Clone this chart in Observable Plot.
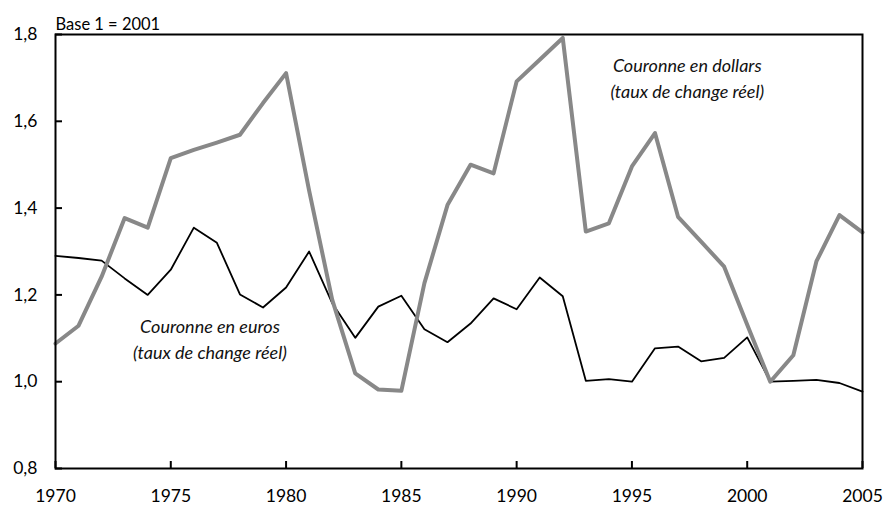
<!DOCTYPE html>
<html>
<head>
<meta charset="utf-8">
<script src="https://cdn.jsdelivr.net/npm/d3@7"></script>
<script src="https://cdn.jsdelivr.net/npm/@observablehq/plot@0.6"></script>
<style>
  html, body { margin: 0; padding: 0; background: #fff; }
  #chart svg { display: block; }
</style>
</head>
<body>
<div id="chart"></div>
<script>
const years = d3.range(1970, 2006);
const dollarValues = [1.088, 1.129, 1.242, 1.377, 1.355, 1.515, 1.534, 1.551, 1.569, 1.642,
  1.711, 1.44, 1.189, 1.019, 0.982, 0.979, 1.227, 1.407, 1.500, 1.480,
  1.692, 1.742, 1.792, 1.346, 1.365, 1.496, 1.573, 1.380, 1.323, 1.265,
  1.131, 1.000, 1.061, 1.277, 1.384, 1.344];
const euroValues = [1.290, 1.285, 1.279, 1.238, 1.200, 1.258, 1.355, 1.320, 1.201, 1.171,
  1.217, 1.300, 1.181, 1.101, 1.173, 1.198, 1.121, 1.091, 1.134, 1.192,
  1.167, 1.240, 1.197, 1.002, 1.006, 1.000, 1.077, 1.081, 1.047, 1.055,
  1.102, 1.000, 1.002, 1.004, 0.997, 0.977];
const xTicks = [1970, 1975, 1980, 1985, 1990, 1995, 2000, 2005];
const yTicks = [0.8, 1.0, 1.2, 1.4, 1.6, 1.8];
const baseLabel = "Base 1 = 2001";
const labels = [
  {year: 1997.4, value: 1.728, text: "Couronne en dollars"},
  {year: 1997.4, value: 1.666, text: "(taux de change réel)"},
  {year: 1976.7, value: 1.125, text: "Couronne en euros"},
  {year: 1976.7, value: 1.066, text: "(taux de change réel)"}
];

const dollars = years.map((y, i) => ({year: y, value: dollarValues[i]}));
const euros = years.map((y, i) => ({year: y, value: euroValues[i]}));
const fmt = d => d3.format(".1f")(d).replace(".", ",");
const font = "Lato, 'Open Sans', sans-serif";

const W = 887, H = 509, ML = 55, MR = 25, MT = 34, MB = 41;
const tickLen = 7;

const chart = Plot.plot({
  width: W,
  height: H,
  marginLeft: ML,
  marginRight: MR,
  marginTop: MT,
  marginBottom: MB,
  style: {fontFamily: font, fontSize: "17px", color: "#000", background: "#fff"},
  x: {domain: [1970, 2005]},
  y: {domain: [0.8, 1.8]},
  marks: [
    Plot.axisX({ticks: xTicks, tickSize: 0, tickPadding: 21, tickFormat: d => String(d), label: null, fontSize: 17.5}),
    Plot.axisY({ticks: yTicks, tickSize: 0, tickPadding: 18, tickFormat: fmt, label: null, fontSize: 17.5}),
    Plot.line(euros, {x: "year", y: "value", stroke: "#000", strokeWidth: 1.8}),
    Plot.line(dollars, {x: "year", y: "value", stroke: "#888", strokeWidth: 4}),
    Plot.frame({stroke: "#000", strokeWidth: 2}),
    Plot.tickX(xTicks, {x: d => d, stroke: "#000", strokeWidth: 2, insetTop: H - MT - MB - tickLen}),
    Plot.tickY(yTicks, {y: d => d, stroke: "#000", strokeWidth: 2, insetRight: W - ML - MR - tickLen}),
    Plot.text(labels, {x: "year", y: "value", text: "text", fontStyle: "italic", fontSize: 18, fill: "#111"}),
    Plot.text([baseLabel], {frameAnchor: "top-left", textAnchor: "start", dy: -16, fontSize: 16.5})
  ]
});
document.getElementById("chart").appendChild(chart);
</script>
</body>
</html>
